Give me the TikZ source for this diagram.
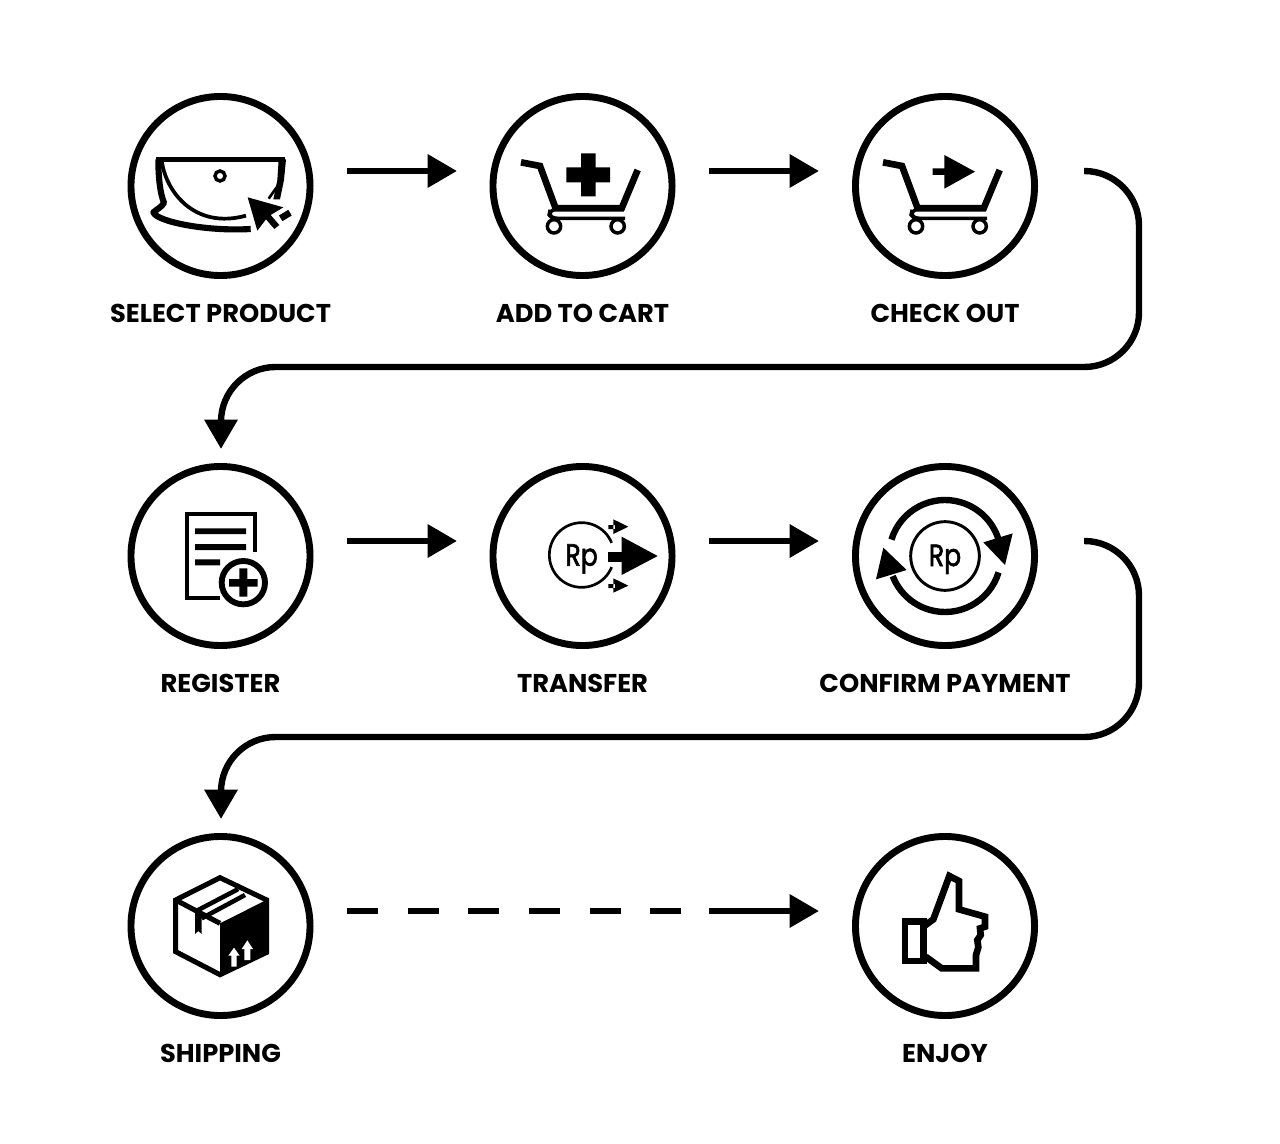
\documentclass[tikz,border=0pt]{standalone}
\usepackage{fontspec}
\setmainfont{Poppins}
\newfontfamily\rpfont[FakeBold=2.2]{Poppins}
\usetikzlibrary{arrows.meta}
\tikzset{
  x=.75pt,y=-.75pt,
  zm/.style 2 args={shift={(#1,#2)},x=.25pt,y=-.25pt},
  stage/.style={circle,draw=black,line width=5.2pt,minimum size=134.3pt,inner sep=0pt},
  steptext/.style={font=\bfseries\fontsize{19.3pt}{20pt}\selectfont,inner sep=0pt,anchor=center},
  flow/.style={draw=black,line width=4.8pt,-{Triangle[length=22pt,width=24pt]}},
  flowbend/.style={flow,rounded corners=41pt},
  gapline/.style={draw=black,line width=4.8pt,dash pattern=on 23.3pt off 22.2pt},
  rp/.style={font=\rpfont\fontsize{23pt}{23pt}\selectfont,inner sep=0pt,anchor=base},
  ink/.style={draw=black,fill=none,line join=miter},
}
\newcommand{\cartshape}{%
  \draw[ink,line width=5pt] (63,97)--(120,108)--(167,235)--(365,235)--(413,120);
  \draw[ink,line width=2.6pt,rounded corners=4pt] (167,237)--(150,241)--(147,255)--(157,265)--(375,265);
  \draw[ink,line width=2.6pt] (162,289) circle[radius=5pt] (353,289) circle[radius=5pt];
}
\begin{document}
\begin{tikzpicture}
\useasboundingbox[fill=white] (0,0) rectangle (1280,1144);
% stages
\node[stage] (s1) at (220.5,186) {};
\node[stage] (s2) at (582.5,186) {};
\node[stage] (s3) at (945,186) {};
\node[stage] (s4) at (220.5,556) {};
\node[stage] (s5) at (582.5,556) {};
\node[stage] (s6) at (945,556) {};
\node[stage] (s7) at (220.5,926) {};
\node[stage] (s8) at (945,926) {};
% labels
\node[steptext] (t1) at (220.5,313) {SELECT PRODUCT};
\node[steptext] (t2) at (582.5,313) {ADD TO CART};
\node[steptext] (t3) at (945,313) {CHECK OUT};
\node[steptext] (t4) at (220.5,683) {REGISTER};
\node[steptext] (t5) at (582.5,683) {TRANSFER};
\node[steptext] (t6) at (945,683) {CONFIRM PAYMENT};
\node[steptext] (t7) at (220.5,1053) {SHIPPING};
\node[steptext] (t8) at (945,1053) {ENJOY};
% connector ends
\coordinate (a1) at (347,171); \coordinate (b1) at (457,171);
\coordinate (a2) at (709,171); \coordinate (b2) at (819,171);
\coordinate (a3) at (1084,171); \coordinate (b3) at (221,449);
\coordinate (a4) at (347,541); \coordinate (b4) at (457,541);
\coordinate (a5) at (709,541); \coordinate (b5) at (819,541);
\coordinate (a6) at (1084,541); \coordinate (b6) at (221,819);
\coordinate (a7) at (347,911); \coordinate (m7) at (682,911);
\coordinate (n7) at (709,911); \coordinate (b7) at (819,911);
\draw[flow] (a1)--(b1);
\draw[flow] (a2)--(b2);
\draw[flowbend] (a3)--(1139,171)--(1139,367)--(221,367)--(b3);
\draw[flow] (a4)--(b4);
\draw[flow] (a5)--(b5);
\draw[flowbend] (a6)--(1139,541)--(1139,737)--(221,737)--(b6);
\draw[gapline] (a7)--(m7);
\draw[flow] (n7)--(b7);
% icon 1: select product
\begin{scope}[zm={120}{90}]
  \draw[ink,line width=3.6pt,line join=round] (108,208)--(495,208);
  \draw[ink,line width=4.6pt,line join=round] (115,208) .. controls (115,260) and (120,310) .. (132,338)
     .. controls (127,350) and (110,358) .. (100,367)
     .. controls (110,395) and (260,425) .. (392,417);
  \draw[ink,line width=2.8pt] (125,210) .. controls (135,300) and (220,420) .. (378,377);
  \fill (476,208)--(498,208)--(492,270)--(480,328)--(460,328)--(472,270)--cycle;
  \draw[ink,line width=2pt] (470,292) -- (446,326);
  \draw[ink,line width=2.6pt] (300,258) circle[radius=15];
  \fill (383,322)--(490,352)--(452,375)--(478,405)--(463,417)--(438,388)--(412,422)--cycle;
  \draw[ink,line width=5pt] (482,385)--(510,368);
\end{scope}
% icon 2: add to cart
\begin{scope}[zm={500}{130}]
  \cartshape
  \fill (243,70)--(287,70)--(287,112)--(330,112)--(330,157)--(287,157)--(287,199)--(243,199)--(243,157)--(199,157)--(199,112)--(243,112)--cycle;
\end{scope}
% icon 3: check out
\begin{scope}[zm={862}{130}]
  \cartshape
  \fill (212,115)--(247,115)--(247,75)--(339,125)--(247,176)--(247,135)--(212,135)--cycle;
\end{scope}
% icon 4: register
\begin{scope}[zm={170}{500}]
  \draw[ink,line width=2.8pt] (255,155)--(255,42)--(50,42)--(50,293)--(150,293);
  \fill (75,85) rectangle (228,102) (75,132) rectangle (228,150) (75,178) rectangle (150,196);
  \draw[ink,line width=4.4pt,fill=white] (220,248) circle[radius=65];
  \fill (208,205)--(232,205)--(232,237)--(263,237)--(263,260)--(232,260)--(232,290)--(208,290)--(208,260)--(177,260)--(177,237)--(208,237)--cycle;
\end{scope}
% icon 5: transfer
\begin{scope}[zm={535}{510}]
  \draw[ink,line width=2pt] (140,135) ++(-22:97) arc[start angle=-22,end angle=-338,radius=97];
  \node[rp] (rp1) at (140,167) {\scalebox{.82}[1]{Rp}};
  \fill (220,125) rectangle (262,155);
  \fill (260,80)--(368,138)--(260,195)--cycle;
  \fill (220,45) rectangle (240,57) (235,28)--(280,50)--(235,72)--cycle;
  \fill (220,222) rectangle (240,234) (235,205)--(280,227)--(235,248)--cycle;
\end{scope}
% icon 6: confirm payment
\begin{scope}[zm={865}{485}]
  \draw[ink,line width=2.2pt] (240,213) circle[radius=103];
  \node[rp] (rp2) at (240,243) {\scalebox{.82}[1]{Rp}};
  \draw[ink,line width=4.8pt] (240,213) ++(-163:168) arc[start angle=-163,end angle=-18,radius=168];
  \draw[ink,line width=4.8pt] (240,213) ++(17:168) arc[start angle=17,end angle=159,radius=168];
  \fill (443,145)--(355,172)--(420,240)--cycle;
  \fill (55,188)--(125,255)--(33,283)--cycle;
\end{scope}
% icon 7: shipping
\begin{scope}[zm={160}{865}]
  \draw[ink,line width=3.8pt] (180,38)--(320,105)--(320,262)--(180,329)--(47,260)--(47,105)--cycle;
  \fill (180,175)--(325,102)--(325,265)--(180,335)--cycle;
  \draw[ink,line width=3.8pt] (47,105)--(180,175);
  \draw[ink,line width=3.4pt] (105,140)--(235,72) (125,160)--(255,90);
  \fill (105,135)--(125,150)--(125,207)--(115,198)--(105,207)--cycle;
  \fill[white] (222,248)--(239,272)--(230,272)--(230,305)--(214,305)--(214,272)--(205,272)--cycle;
  \fill[white] (262,226)--(279,252)--(271,252)--(271,285)--(253,285)--(253,252)--(245,252)--cycle;
\end{scope}
% icon 8: enjoy
\begin{scope}[zm={890}{860}]
  \draw[ink,line width=5pt] (100,200)--(130,178)--(178,48)--(207,63)--(207,148)--(285,170)--(285,200)--(270,205)--(272,225)--(262,240)--(265,262)--(258,285)--(258,325)--(155,325)--(107,290);
  \draw[ink,line width=5pt] (45,185) rectangle (100,303);
\end{scope}
\end{tikzpicture}
\end{document}
